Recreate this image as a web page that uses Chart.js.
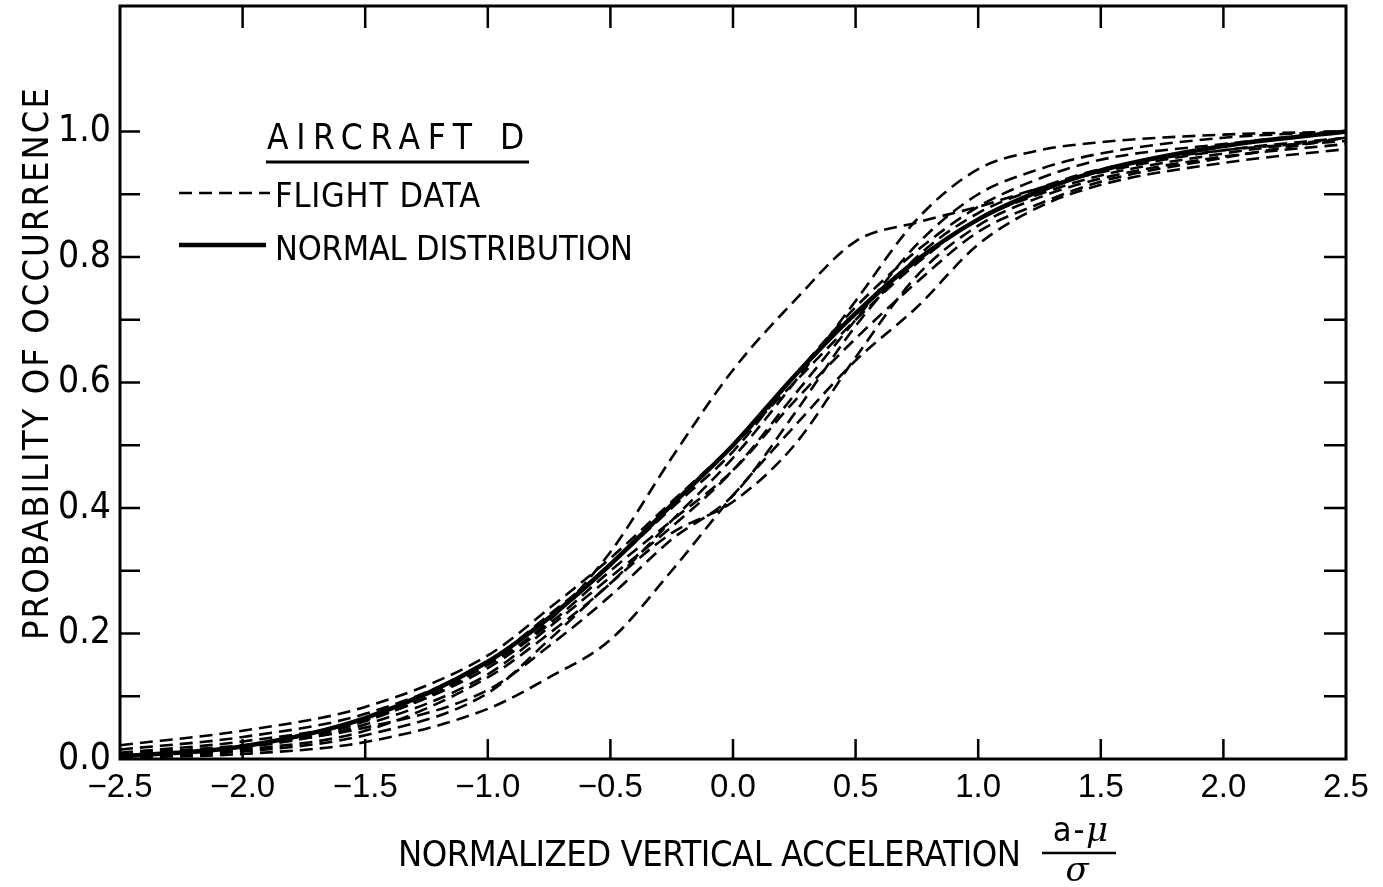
<!DOCTYPE html>
<html>
<head>
  <title>Aircraft D - vertical acceleration distribution</title>
  <script src="https://cdn.jsdelivr.net/npm/chart.js"></script>
  <style>
    html, body { margin: 0; padding: 0; background: #fff; }
    #wrap { width: 1383px; height: 887px; }
  </style>
</head>
<body>
  <div id="wrap"><canvas id="accChart" width="1383" height="887"></canvas></div>

  <script>
    const NARROW = '"Liberation Sans Narrow", "DejaVu Sans Condensed", "Roboto Condensed", sans-serif';

    // normalized acceleration (a - mu) / sigma
    const xVals = [-2.5, -2.0, -1.5, -1.0, -0.75, -0.5, -0.25, 0, 0.25, 0.5, 0.75, 1.0, 1.25, 1.5, 2.0, 2.5];

    // cumulative probability, normal curve
    const normalCurve = [0.004, 0.02, 0.065, 0.155, 0.225, 0.31, 0.405, 0.50, 0.61, 0.71, 0.795, 0.86, 0.905, 0.938, 0.977, 1.0];

    // flight records
    const flight1 = [0.022, 0.045, 0.083, 0.165, 0.24, 0.32, 0.41, 0.50, 0.60, 0.70, 0.79, 0.86, 0.90, 0.93, 0.965, 0.99];
    const flight2 = [0.015, 0.035, 0.072, 0.155, 0.23, 0.31, 0.40, 0.49, 0.61, 0.72, 0.81, 0.88, 0.925, 0.955, 0.98, 1.0];
    const flight3 = [0.005, 0.02, 0.06, 0.15, 0.22, 0.33, 0.48, 0.62, 0.73, 0.825, 0.855, 0.88, 0.91, 0.935, 0.97, 0.99];
    const flight4 = [0.004, 0.015, 0.045, 0.13, 0.20, 0.28, 0.38, 0.48, 0.60, 0.73, 0.86, 0.94, 0.97, 0.983, 0.995, 1.0];
    const flight5 = [0.002, 0.008, 0.027, 0.08, 0.13, 0.19, 0.30, 0.42, 0.53, 0.635, 0.72, 0.82, 0.88, 0.915, 0.95, 0.972];
    const flight6 = [0.008, 0.022, 0.05, 0.11, 0.18, 0.26, 0.35, 0.42, 0.55, 0.69, 0.80, 0.87, 0.91, 0.94, 0.97, 0.985];
    const flight7 = [0.004, 0.012, 0.038, 0.105, 0.19, 0.28, 0.36, 0.41, 0.50, 0.64, 0.77, 0.85, 0.895, 0.925, 0.96, 0.98];
    const flight8 = [0.01, 0.028, 0.062, 0.145, 0.215, 0.30, 0.38, 0.46, 0.57, 0.67, 0.76, 0.84, 0.885, 0.92, 0.958, 0.99];
    const flight9 = [0.006, 0.018, 0.055, 0.135, 0.21, 0.29, 0.37, 0.46, 0.58, 0.70, 0.82, 0.90, 0.94, 0.965, 0.99, 1.0];
    const flightRuns = [flight1, flight2, flight3, flight4, flight5, flight6, flight7, flight8, flight9];

    // tick marks
    const xMinorTicks = [-2.0, -1.5, -1.0, -0.5, 0, 0.5, 1.0, 1.5, 2.0];
    const yMinorTicks = [0.1, 0.2, 0.3, 0.4, 0.5, 0.6, 0.7, 0.8, 0.9, 1.0];

    const toPoints = ys => xVals.map((x, i) => ({ x: x, y: ys[i] }));

    const datasets = [{
      label: 'NORMAL DISTRIBUTION',
      data: toPoints(normalCurve),
      borderColor: '#000',
      borderWidth: 4.5,
      pointRadius: 0,
      cubicInterpolationMode: 'monotone'
    }];
    flightRuns.forEach((run, i) => {
      datasets.push({
        label: 'FLIGHT DATA ' + (i + 1),
        data: toPoints(run),
        borderColor: '#000',
        borderWidth: 2.6,
        borderDash: [13, 7],
        pointRadius: 0,
        cubicInterpolationMode: 'monotone'
      });
    });

    // spread text out to a given width (hand lettering is wide-spaced)
    function fitText(ctx, text, x, y, width) {
      ctx.letterSpacing = '0px';
      const w = ctx.measureText(text).width;
      const gap = (width - w) / Math.max(1, text.length - 1);
      ctx.letterSpacing = gap.toFixed(2) + 'px';
      ctx.fillText(text, x, y);
      ctx.letterSpacing = '0px';
    }

    const decorations = {
      id: 'decorations',
      afterDatasetsDraw(chart) {
        const ctx = chart.ctx;
        const a = chart.chartArea;
        const xs = chart.scales.x, ys = chart.scales.y;
        ctx.save();
        ctx.strokeStyle = '#000';
        ctx.lineWidth = 3;
        ctx.strokeRect(a.left, a.top, a.right - a.left, a.bottom - a.top);

        // inward ticks on all four sides
        ctx.lineWidth = 2.5;
        ctx.beginPath();
        xMinorTicks.forEach(v => {
          const px = xs.getPixelForValue(v);
          ctx.moveTo(px, a.bottom); ctx.lineTo(px, a.bottom - 20);
          ctx.moveTo(px, a.top); ctx.lineTo(px, a.top + 22);
        });
        yMinorTicks.forEach(v => {
          const py = ys.getPixelForValue(v);
          ctx.moveTo(a.left, py); ctx.lineTo(a.left + 20, py);
          ctx.moveTo(a.right, py); ctx.lineTo(a.right - 22, py);
        });
        ctx.stroke();
        ctx.restore();
      },
      afterDraw(chart) {
        const ctx = chart.ctx;
        ctx.save();
        ctx.fillStyle = '#000';
        ctx.strokeStyle = '#000';
        ctx.textBaseline = 'alphabetic';
        ctx.textAlign = 'left';

        // legend block
        ctx.font = '35px ' + NARROW;
        fitText(ctx, 'AIRCRAFT', 267, 149, 205);
        ctx.fillText('D', 500, 149);
        ctx.lineWidth = 3;
        ctx.beginPath();
        ctx.moveTo(266, 162); ctx.lineTo(529, 162);
        ctx.stroke();

        ctx.font = '34px ' + NARROW;
        fitText(ctx, 'FLIGHT DATA', 275, 207, 205);
        fitText(ctx, 'NORMAL DISTRIBUTION', 275, 260, 358);

        ctx.lineWidth = 2.6;
        ctx.setLineDash([13, 7]);
        ctx.beginPath();
        ctx.moveTo(179, 193); ctx.lineTo(270, 193);
        ctx.stroke();
        ctx.setLineDash([]);
        ctx.lineWidth = 4.5;
        ctx.beginPath();
        ctx.moveTo(179, 245); ctx.lineTo(266, 245);
        ctx.stroke();

        // x axis title with the fraction
        ctx.font = '36px ' + NARROW;
        fitText(ctx, 'NORMALIZED VERTICAL ACCELERATION', 398, 866, 623);
        ctx.textAlign = 'center';
        ctx.font = '34px ' + NARROW;
        ctx.fillText('a', 1062, 841);
        ctx.fillText('-', 1079, 841);
        ctx.font = 'italic 34px "DejaVu Serif", serif';
        ctx.fillText('\u03BC', 1097, 841);
        ctx.fillText('\u03C3', 1077, 881);
        ctx.lineWidth = 2.5;
        ctx.beginPath();
        ctx.moveTo(1042, 853); ctx.lineTo(1116, 853);
        ctx.stroke();

        // y axis title
        ctx.translate(48, 640);
        ctx.rotate(-Math.PI / 2);
        ctx.textAlign = 'left';
        ctx.font = '36px ' + NARROW;
        fitText(ctx, 'PROBABILITY OF OCCURRENCE', 0, 0, 552);
        ctx.restore();
      }
    };

    const fmt = v => (v < 0 ? '\u2212' : '') + Math.abs(v).toFixed(1);

    // keep the plot frame where the layout padding puts it
    const noOverflow = s => {
      s.paddingTop = 0; s.paddingBottom = 0;
      s.paddingLeft = 0; s.paddingRight = 0;
    };

    const chart = new Chart(document.getElementById('accChart'), {
      type: 'line',
      data: { datasets: datasets },
      options: {
        responsive: false,
        animation: false,
        layout: { padding: { top: 6, right: 37, left: 0, bottom: 0 } },
        plugins: {
          legend: { display: false },
          tooltip: { enabled: false }
        },
        scales: {
          x: {
            type: 'linear',
            min: -2.5,
            max: 2.5,
            grid: { display: false, drawTicks: false },
            border: { display: false },
            ticks: {
              stepSize: 0.5,
              padding: 9,
              color: '#000',
              font: { family: '"Liberation Sans", Arial, sans-serif', size: 33 },
              callback: v => fmt(v),
              maxRotation: 0,
              autoSkip: false
            },
            afterFit: s => { s.height = 128; noOverflow(s); }
          },
          y: {
            type: 'linear',
            min: 0,
            max: 1.2,
            grid: { display: false, drawTicks: false },
            border: { display: false },
            ticks: {
              stepSize: 0.2,
              padding: 9,
              color: '#000',
              font: { family: NARROW, size: 37 },
              callback: v => (v > 1.05 ? '' : v.toFixed(1))
            },
            afterFit: s => { s.width = 120; noOverflow(s); }
          }
        }
      },
      plugins: [decorations]
    });
  </script>
</body>
</html>
